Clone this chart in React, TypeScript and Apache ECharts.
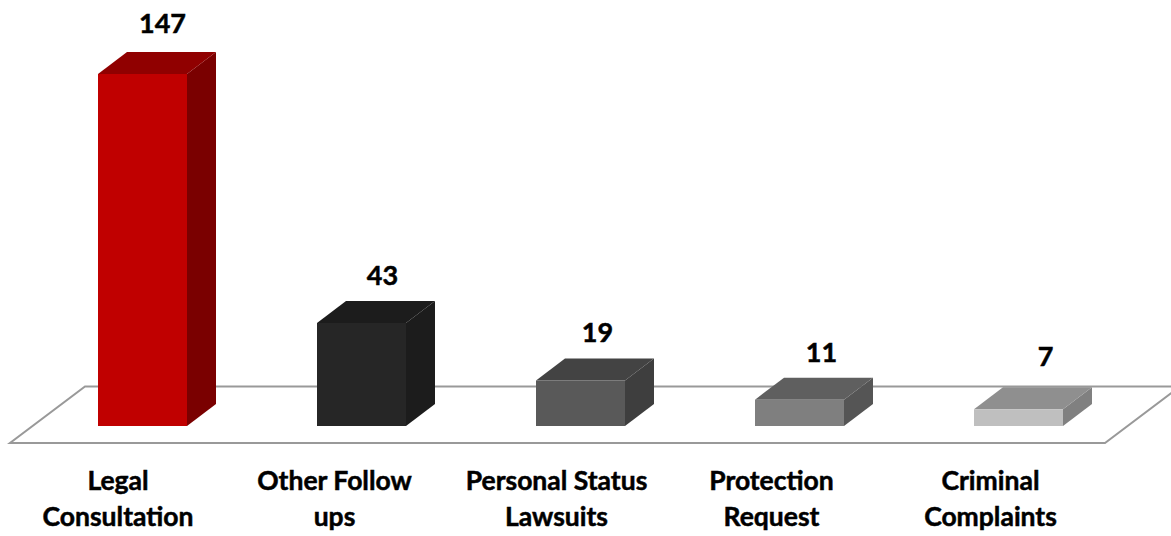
import React, { useEffect, useRef } from "react";
import * as echarts from "echarts";

const categories = ["Legal\nConsultation", "Other Follow\nups", "Personal Status\nLawsuits", "Protection\nRequest", "Criminal\nComplaints"];
const values = [147, 43, 19, 11, 7];
const frontColors = ["#c00000", "#262626", "#595959", "#7f7f7f", "#bfbfbf"];
const topColors = ["#900000", "#1c1c1c", "#434343", "#5f5f5f", "#8f8f8f"];
const sideColors = ["#7a0000", "#1c1c1c", "#3e3e3e", "#555555", "#808080"];
const labelShiftX = [20, 21, 17, 22, 27];
const labelShiftY = [-30, -27, -27, -26, -32];
const categoryPadding = [49, 54, 48, 56, 56];

const DX = 29;
const DY = -22;
const FONT = "Lato, 'Open Sans', sans-serif";

const renderBar = (params: any, api: any) => {
  const i = api.value(0);
  const v = api.value(1);
  const c = api.coord([i, v]);
  const b = api.coord([i, 0]);
  const w = 89;
  const x0 = c[0] - w / 2;
  const x1 = x0 + w;
  const yTop = c[1];
  const yBase = b[1];
  return {
    type: "group",
    children: [
      {
        type: "polygon",
        shape: { points: [[x1, yBase], [x1 + DX, yBase + DY], [x1 + DX, yTop + DY], [x1, yTop]] },
        style: { fill: sideColors[i] },
      },
      {
        type: "polygon",
        shape: { points: [[x0, yTop], [x0 + DX, yTop + DY], [x1 + DX, yTop + DY], [x1, yTop]] },
        style: { fill: topColors[i] },
      },
      {
        type: "rect",
        shape: { x: x0, y: yTop, width: w, height: yBase - yTop },
        style: { fill: frontColors[i] },
      },
      {
        type: "text",
        style: {
          text: String(values[i]),
          x: c[0] + labelShiftX[i],
          y: yTop + DY + labelShiftY[i],
          align: "center",
          verticalAlign: "middle",
          fill: "#000",
          stroke: "#000",
          lineWidth: 0.5,
          font: `bold 27px ${FONT}`,
        },
      },
    ],
  };
};

export default function App() {
  const ref = useRef<HTMLDivElement>(null);
  useEffect(() => {
    document.body.style.margin = "0";
    const chart = echarts.init(ref.current!, null, { renderer: "svg" });
    chart.setOption({
      animation: false,
      backgroundColor: "#ffffff",
      grid: { left: 33, right: 43, top: 74, bottom: 110, containLabel: false },
      xAxis: {
        type: "category",
        data: categories.map((value, i) => ({
          value,
          textStyle: { padding: [0, categoryPadding[i], 0, 0] },
        })),
        axisLine: { show: false },
        axisTick: { show: false },
        axisLabel: {
          interval: 0,
          margin: 36,
          color: "#000",
          fontFamily: FONT,
          fontWeight: "bold",
          fontSize: 26.5,
          lineHeight: 36,
          textBorderColor: "#000",
          textBorderWidth: 0.5,
          hideOverlap: false,
        },
      },
      yAxis: { type: "value", min: 0, max: 147, show: false },
      graphic: [
        {
          type: "polygon",
          z: 0,
          shape: { points: [[10, 443], [1105, 443], [1180, 386.5], [85, 386.5]] },
          style: { fill: "#ffffff", stroke: "#999999", lineWidth: 2 },
        },
      ],
      series: [
        {
          type: "custom",
          renderItem: renderBar,
          z: 5,
          clip: false,
          encode: { x: 0, y: 1 },
          data: values.map((v, i) => [i, v]),
        },
      ],
    });
    return () => chart.dispose();
  }, []);
  return <div ref={ref} style={{ width: 1171, height: 536 }} />;
}
